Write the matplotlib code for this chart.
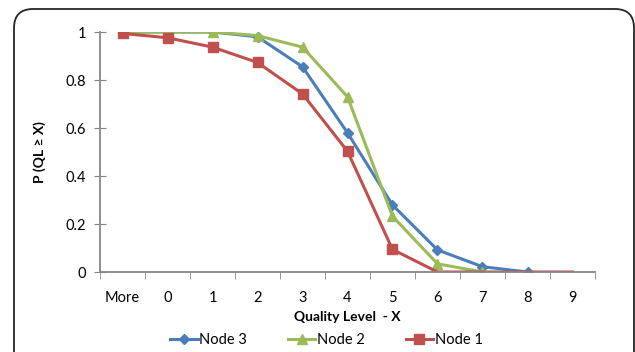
import numpy as np
import matplotlib
matplotlib.use("Agg")
import matplotlib.pyplot as plt
from matplotlib.patches import FancyBboxPatch

categories = ["More", "0", "1", "2", "3", "4", "5", "6", "7", "8", "9"]
node3 = [1.0, 1.0, 1.0, 0.98, 0.855, 0.58, 0.279, 0.092, 0.022, 0.0, np.nan]
node2 = [1.0, 1.0, 1.0, 0.985, 0.937, 0.73, 0.232, 0.034, 0.0, np.nan, np.nan]
node1 = [0.994, 0.976, 0.937, 0.873, 0.742, 0.503, 0.094, 0.0, 0.0, 0.0, 0.0]

plt.rcParams['font.family'] = ['Lato', 'DejaVu Sans']

fig = plt.figure(figsize=(6.35, 3.52), dpi=100)

# rounded chart border, partly cut off at right/bottom like the original
border = FancyBboxPatch((14 / 635, -0.2), (634 - 14) / 635, 1.2 - 9 / 352,
                        boxstyle="round,pad=0,rounding_size=0.03",
                        transform=fig.transFigure, fill=False,
                        edgecolor="#262626", linewidth=1.3, mutation_aspect=635 / 352)
fig.patches.append(border)

ax = fig.add_axes([100 / 635, 80 / 352, 495 / 635, 240 / 352])
x = np.arange(len(categories))

ax.plot(x, node3, color="#4A7EBB", lw=2.2, marker="D", ms=5.5, label="Node 3")
ax.plot(x, node2, color="#9BBB59", lw=2.2, marker="^", ms=7.5, label="Node 2")
ax.plot(x, node1, color="#C0504D", lw=2.2, marker="s", ms=7, markevery=list(range(7)),
        label="Node 1")

ax.set_xlim(-0.5, len(categories) - 0.5)
ax.set_ylim(0, 1)
ax.set_xticks(x)
ax.set_xticklabels(categories)
ax.set_xticks(np.arange(-0.5, len(categories)), minor=True)
ax.tick_params(axis="x", which="major", length=0, pad=14, labelsize=10.5)
ax.tick_params(axis="x", which="minor", length=5, color="#868686", direction="out")
ax.set_yticks([0, 0.2, 0.4, 0.6, 0.8, 1.0])
ax.set_yticklabels(["0", "0.2", "0.4", "0.6", "0.8", "1"])
ax.tick_params(axis="y", length=8, color="#868686", direction="inout", labelsize=10.5, pad=6)

for s in ["top", "right"]:
    ax.spines[s].set_visible(False)
for s in ["left", "bottom"]:
    ax.spines[s].set_color("#868686")
    ax.spines[s].set_linewidth(1.3)

ax.set_xlabel("Quality Level  - X", fontweight="bold", fontsize=10, labelpad=4)
ax.set_ylabel("P (QL \u2265 X)", fontweight="bold", fontsize=10, labelpad=14)

ax.legend(loc="upper center", bbox_to_anchor=(0.457, -0.2), ncol=3, frameon=False,
          fontsize=10.5, handlelength=1.9, columnspacing=2.8, handletextpad=0.1)

fig.savefig("out.png", dpi=100)
